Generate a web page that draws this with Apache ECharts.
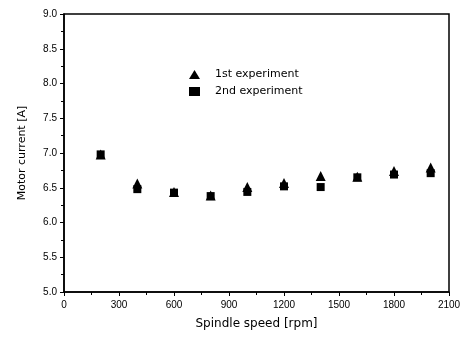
<!DOCTYPE html>
<html><head><meta charset="utf-8">
<script src="https://cdn.jsdelivr.net/npm/echarts@6/dist/echarts.min.js"></script>
<style>html,body{margin:0;padding:0;background:#fff}#c{width:465px;height:338px}</style>
</head><body><div id="c"></div>
<script>
var speeds = [200, 400, 600, 800, 1000, 1200, 1400, 1600, 1800, 2000];
var exp1 = [6.98, 6.56, 6.44, 6.39, 6.51, 6.57, 6.67, 6.66, 6.74, 6.79];
var exp2 = [6.98, 6.48, 6.43, 6.38, 6.44, 6.52, 6.51, 6.65, 6.69, 6.71];
var seriesNames = ['1st experiment', '2nd experiment'];
var xTicks = [0, 300, 600, 900, 1200, 1500, 1800, 2100];
var yTicks = [5.0, 5.5, 6.0, 6.5, 7.0, 7.5, 8.0, 8.5, 9.0];

function pairs(xs, ys){ return xs.map(function(x,i){ return [x, ys[i]]; }); }
var font = 'Liberation Sans, Arial, sans-serif';
var wide = 'DejaVu Sans, sans-serif';
var chart = echarts.init(document.getElementById('c'));
chart.setOption({
  backgroundColor: '#fff',
  animation: false,
  grid: {left: 64, right: 16, top: 14, bottom: 46, show: true, borderColor: '#000', borderWidth: 1.5},
  legend: {
    orient: 'vertical', left: 184, top: 64, itemGap: 6, itemWidth: 11, itemHeight: 9,
    data: [{name: seriesNames[0], icon: 'triangle'}, {name: seriesNames[1], icon: 'rect'}],
    textStyle: {fontFamily: wide, fontSize: 11, color: '#000', padding: [0,0,0,10]}
  },
  xAxis: {
    type: 'value', min: xTicks[0], max: xTicks[xTicks.length-1], interval: 300,
    name: 'Spindle speed [rpm]', nameLocation: 'middle', nameGap: 26,
    nameTextStyle: {fontFamily: wide, fontSize: 12, color: '#000'},
    axisLine: {onZero: false, lineStyle: {color: '#000', width: 1.5}},
    axisTick: {show: true, inside: false, length: 4, lineStyle: {color: '#000'}},
    minorTick: {show: true, splitNumber: 2, length: 3, lineStyle: {color: '#000'}},
    axisLabel: {fontFamily: font, fontSize: 10, color: '#000', margin: 8,
      formatter: function(v){ return String(v); }},
    splitLine: {show: false}
  },
  yAxis: {
    type: 'value', min: yTicks[0], max: yTicks[yTicks.length-1], interval: 0.5,
    name: 'Motor current [A]', nameLocation: 'middle', nameGap: 36,
    nameTextStyle: {fontFamily: wide, fontSize: 11, color: '#000'},
    axisLine: {onZero: false, lineStyle: {color: '#000', width: 1.5}},
    axisTick: {show: true, inside: false, length: 4, lineStyle: {color: '#000'}},
    minorTick: {show: true, splitNumber: 2, length: 3, lineStyle: {color: '#000'}},
    axisLabel: {fontFamily: font, fontSize: 10, color: '#000', margin: 7,
      formatter: function(v){ return v.toFixed(1); }},
    splitLine: {show: false}
  },
  series: [
    {name: seriesNames[0], type: 'scatter', symbol: 'triangle', symbolSize: 10,
     itemStyle: {color: '#000', opacity: 1}, data: pairs(speeds, exp1), z: 3},
    {name: seriesNames[1], type: 'scatter', symbol: 'rect', symbolSize: 8,
     itemStyle: {color: '#000', opacity: 1}, data: pairs(speeds, exp2), z: 2}
  ]
});
</script></body></html>
